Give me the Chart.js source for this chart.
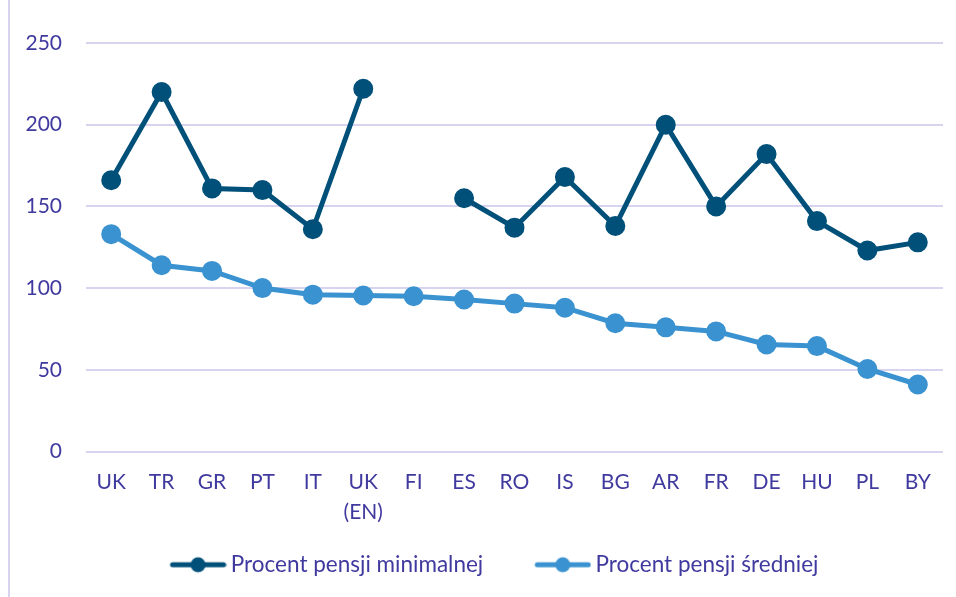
<!DOCTYPE html>
<html>
<head>
<meta charset="utf-8">
<script src="https://cdn.jsdelivr.net/npm/chart.js@4"></script>
<style>
    body { margin: 0; background: #ffffff; }
    #caja { width: 956px; height: 597px; position: relative; }
</style>
</head>
<body>
<div id="caja"><canvas id="chart_pensje" width="956" height="597"></canvas></div>
<script>
// datos
const paises = ['UK', 'TR', 'GR', 'PT', 'IT', ['UK', '(EN)'], 'FI', 'ES', 'RO', 'IS', 'BG', 'AR', 'FR', 'DE', 'HU', 'PL', 'BY']
const pension_minima = [166, 220, 161, 160, 136, 222, null, 155, 137, 168, 138, 200, 150, 182, 141, 123, 128]
const pension_media = [133, 114, 110.5, 100, 96, 95.5, 95, 93, 90.5, 88, 78.5, 76, 73.5, 65.5, 64.5, 50.5, 41]
const y_ticks = [0, 50, 100, 150, 200, 250]

const color_texto = '#403a9f'
const color_grid = '#d8d4f0'
const color_oscuro = '#00507a'
const color_claro = '#3a93d0'

// marcador de leyenda: linea con punto (con hueco transparente a la izquierda)
function marcador_leyenda(color) {
    let c = document.createElement('canvas')
    c.width = 95
    c.height = 18
    let ctx = c.getContext('2d')
    ctx.strokeStyle = color
    ctx.lineWidth = 5
    ctx.lineCap = 'round'
    ctx.beginPath()
    ctx.moveTo(41, 9)
    ctx.lineTo(92, 9)
    ctx.stroke()
    ctx.fillStyle = color
    ctx.beginPath()
    ctx.arc(66.5, 9, 7.5, 0, Math.PI * 2)
    ctx.fill()
    return c
}

// linea vertical del borde izquierdo
const borde_izq = {
    id: 'borde_izq',
    beforeDraw(chart) {
        let ctx = chart.ctx
        ctx.save()
        ctx.strokeStyle = color_grid
        ctx.lineWidth = 2
        ctx.beginPath()
        ctx.moveTo(9, 0)
        ctx.lineTo(9, chart.height)
        ctx.stroke()
        ctx.restore()
    }
}

let chart = document.querySelector('#chart_pensje')
const grafico = new Chart(chart, {
    type: 'line',
    data: {
        labels: paises,
        datasets: [
            {
                label: 'Procent pensji minimalnej',
                data: pension_minima,
                borderColor: color_oscuro,
                backgroundColor: color_oscuro,
                borderWidth: 5,
                pointRadius: 7.5,
                pointHoverRadius: 7.5,
                spanGaps: false,
            },
            {
                label: 'Procent pensji średniej',
                data: pension_media,
                borderColor: color_claro,
                backgroundColor: color_claro,
                borderWidth: 5,
                pointRadius: 7.5,
                pointHoverRadius: 7.5,
            },
        ],
    },
    options: {
        responsive: false,
        animation: false,
        devicePixelRatio: 1,
        layout: {
            padding: { top: 43, right: 13, bottom: 11, left: 14 }
        },
        font: { family: 'Lato' },
        scales: {
            x: {
                offset: true,
                grid: { display: false, drawTicks: false },
                border: { display: false },
                ticks: {
                    color: color_texto,
                    font: { family: 'Lato', size: 21, lineHeight: 1.43 },
                    padding: 16,
                    maxRotation: 0,
                    autoSkip: false,
                },
                afterFit(scale) { scale.height = 82 },
            },
            y: {
                min: 0,
                max: 250,
                afterBuildTicks(scale) { scale.ticks = y_ticks.map(v => ({ value: v })) },
                grid: { color: color_grid, lineWidth: 2, drawTicks: false },
                border: { display: false },
                ticks: {
                    color: color_texto,
                    font: { family: 'Lato', size: 21 },
                    padding: 24,
                },
                afterFit(scale) { scale.width = 72 },
            },
        },
        plugins: {
            legend: {
                display: true,
                position: 'bottom',
                labels: {
                    color: color_texto,
                    font: { family: 'Lato', size: 22.5 },
                    usePointStyle: true,
                    pointStyleWidth: 81,
                    padding: 20,
                    generateLabels(ch) {
                        return ch.data.datasets.map((ds, i) => ({
                            text: ds.label,
                            fontColor: color_texto,
                            pointStyle: marcador_leyenda(ds.borderColor),
                            datasetIndex: i,
                            lineWidth: 0,
                        }))
                    },
                },
            },
            tooltip: { enabled: false },
        },
    },
    plugins: [borde_izq],
})
</script>
</body>
</html>
